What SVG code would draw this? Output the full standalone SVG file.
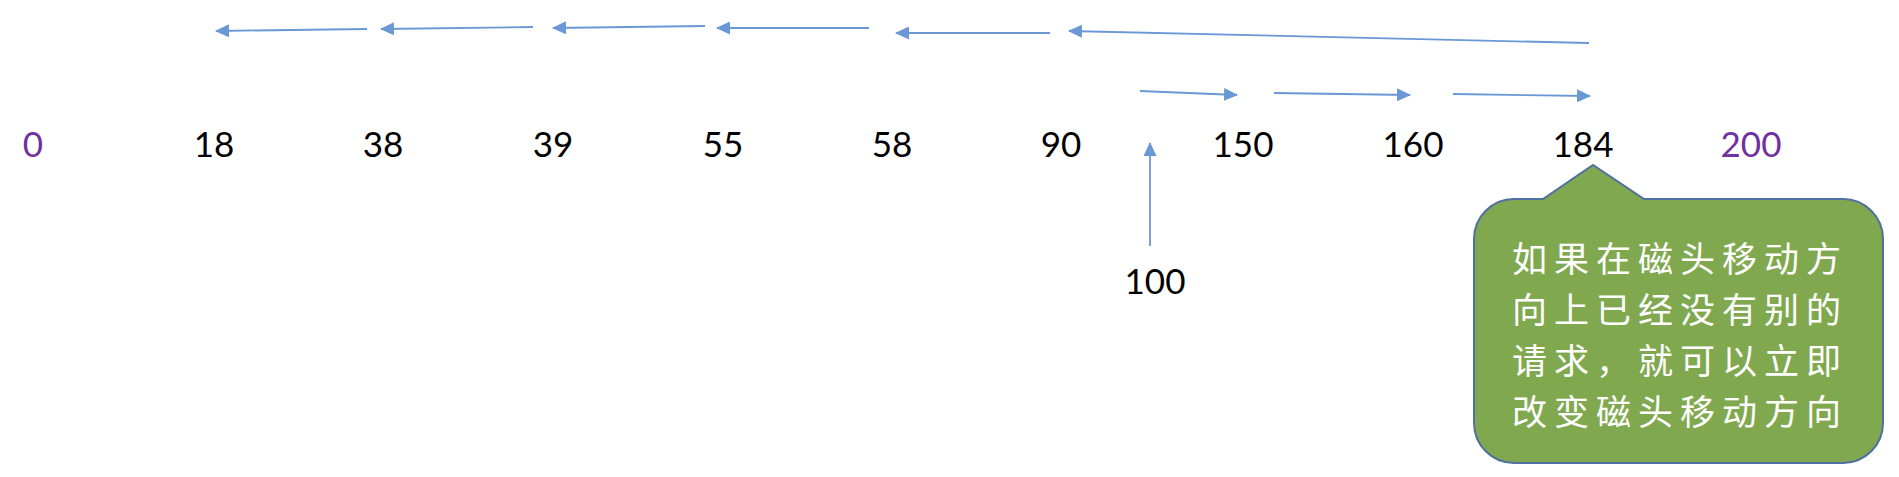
<svg xmlns="http://www.w3.org/2000/svg" width="1899" height="477" viewBox="0 0 1899 477">
<style>
.lbl{font-family:Lato,"Liberation Sans",sans-serif;font-size:35px;fill:#000;text-anchor:middle}
.end{fill:#7030A0}
.conn{stroke:#6A98D4;stroke-width:1.8;fill:none;marker-end:url(#ah)}
.note{font-family:"Noto Sans CJK SC",sans-serif;font-size:35px;letter-spacing:7px;fill:#FFFFFF}
</style>
<defs>
<marker id="ah" viewBox="0 0 14 13" refX="13" refY="6.5" markerWidth="14" markerHeight="13" markerUnits="userSpaceOnUse" orient="auto">
<path d="M0,0 L14,6.5 L0,13 Z" fill="#6A98D4"/>
</marker>
</defs>
<rect width="1899" height="477" fill="#FFFFFF"/>
<g id="connectors">
<line class="conn" x1="367" y1="29" x2="216" y2="31"/>
<line class="conn" x1="533" y1="27" x2="381" y2="29"/>
<line class="conn" x1="705" y1="26" x2="553" y2="28"/>
<line class="conn" x1="869" y1="28" x2="717" y2="28"/>
<line class="conn" x1="1050" y1="33" x2="896" y2="33"/>
<line class="conn" x1="1589" y1="43" x2="1069" y2="31"/>
<line class="conn" x1="1140" y1="91" x2="1237" y2="95"/>
<line class="conn" x1="1274" y1="93" x2="1410" y2="95"/>
<line class="conn" x1="1453" y1="94" x2="1590" y2="96"/>
<line class="conn" x1="1150" y1="246" x2="1150" y2="143"/>
</g>
<g id="n0"><text class="lbl end" x="33" y="157">0</text></g>
<g id="n18"><text class="lbl" x="214" y="157">18</text></g>
<g id="n38"><text class="lbl" x="383" y="157">38</text></g>
<g id="n39"><text class="lbl" x="553" y="157">39</text></g>
<g id="n55"><text class="lbl" x="723" y="157">55</text></g>
<g id="n58"><text class="lbl" x="892" y="157">58</text></g>
<g id="n90"><text class="lbl" x="1061" y="157">90</text></g>
<g id="n150"><text class="lbl" x="1243" y="157">150</text></g>
<g id="n160"><text class="lbl" x="1413" y="157">160</text></g>
<g id="n184"><text class="lbl" x="1583" y="157">184</text></g>
<g id="n200"><text class="lbl end" x="1751" y="157">200</text></g>
<g id="n100"><text class="lbl" x="1155" y="294">100</text></g>
<g id="callout">
<path d="M1514,199 L1543,199 L1593,165 L1644,199 L1843,199 A40,40 0 0 1 1883,239 L1883,423 A40,40 0 0 1 1843,463 L1514,463 A40,40 0 0 1 1474,423 L1474,239 A40,40 0 0 1 1514,199 Z" fill="#80A94F" stroke="#50709F" stroke-width="2"/>
<text class="note" x="1512" y="272">如果在磁头移动方</text>
<text class="note" x="1512" y="323">向上已经没有别的</text>
<text class="note" x="1512" y="374">请求，就可以立即</text>
<text class="note" x="1512" y="425">改变磁头移动方向</text>
</g>
</svg>
